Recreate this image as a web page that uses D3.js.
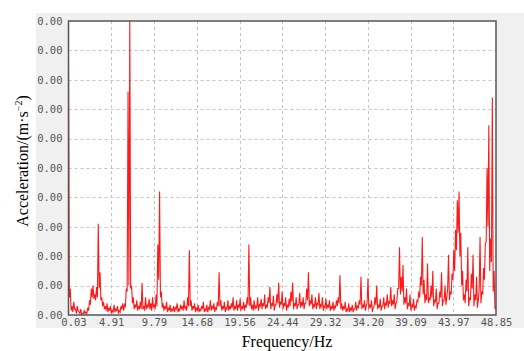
<!DOCTYPE html>
<html><head><meta charset="utf-8">
<script src="https://cdn.jsdelivr.net/npm/d3@7"></script>
<style>html,body{margin:0;padding:0;background:#fff;overflow:hidden}</style>
</head><body>
<svg id="chart" width="524" height="351"></svg>
<script>
// ---- data ----
const freqStart = 0.03, freqStep = 0.2;              // Hz
const xTickLabels = ["0.03","4.91","9.79","14.68","19.56","24.44","29.32","34.20","39.09","43.97","48.85"];
const yTickValues = [0,0.0001,0.0002,0.0003,0.0004,0.0005,0.0006,0.0007,0.0008,0.0009,0.0010];
// amplitude spectrum peaks, in 1e-4 m/s^2, sampled every freqStep from freqStart
const amplitudePeaks = [
 8.6,0.9,0.3,0.45,0.2,0.3,0.1,0.2,0.05,0.15,
 0.1,0.25,0.5,0.9,1.0,0.7,0.95,3.1,1.45,0.6,
 0.45,0.3,0.4,0.25,0.3,0.15,0.35,0.2,0.3,0.15,
 0.3,0.4,0.35,0.9,7.6,10.0,1.0,0.6,0.35,0.5,
 0.3,0.45,1.1,0.3,0.6,0.35,0.55,0.4,0.6,0.35,
 0.7,2.4,4.2,0.8,0.4,0.3,0.45,0.25,0.35,0.2,
 0.3,0.25,0.4,0.2,0.35,0.3,0.5,0.3,0.6,2.2,
 0.5,0.3,0.4,0.25,0.35,0.2,0.3,0.45,0.2,0.35,
 0.25,0.5,0.3,0.4,0.25,0.45,1.45,0.5,0.3,0.45,
 0.25,0.5,0.3,0.4,0.6,0.3,0.5,0.35,0.55,0.3,
 0.45,0.35,0.6,2.4,0.6,0.35,0.5,0.3,0.6,0.35,
 0.55,0.4,0.7,0.35,0.6,0.95,0.4,0.65,0.35,0.7,
 1.1,0.45,0.8,0.4,0.6,0.35,0.55,0.8,1.1,0.4,
 0.6,0.35,0.75,0.45,0.6,0.4,0.9,1.45,0.5,0.7,
 0.35,0.6,0.4,0.75,0.35,0.6,0.3,0.55,0.35,0.5,
 0.3,0.45,0.3,0.5,0.6,1.35,0.4,0.3,0.45,0.2,
 0.4,0.25,0.35,0.2,0.45,0.3,0.5,1.3,0.35,0.5,
 0.3,1.25,0.35,0.5,0.25,0.6,1.0,0.35,0.55,0.3,
 0.6,0.4,0.7,0.45,0.95,0.5,0.7,0.4,0.9,2.3,
 1.3,1.7,0.6,0.9,0.4,0.7,0.35,0.55,0.3,0.5,
 0.8,1.3,2.65,1.2,0.7,1.75,0.6,1.0,1.5,0.5,
 0.9,0.4,0.8,1.45,0.5,1.0,0.6,2.05,0.8,1.4,
 2.2,2.9,3.9,4.2,2.8,1.5,0.7,1.2,2.3,0.6,
 1.4,2.05,0.7,1.3,0.5,2.65,0.8,1.6,2.4,5.0,
 6.45,2.6,7.4,1.5,0.3
];
// in-between samples (half a step later), in 1e-4 m/s^2
const amplitudeTroughs = [
 0.6,0.15,0.1,0.2,0.05,0.15,0.05,0.02,0.05,0.05,0.05,0.15,
 0.35,0.6,0.55,0.5,0.6,0.9,0.5,
 0.3,0.2,0.15,0.1,0.15,0.05,0.1,0.1,0.15,0.05,0.1,0.2,0.15,0.3,
 0.8,1.0,0.9,0.4,0.2,0.25,0.15,0.2,0.2,
 0.2,0.15,0.2,0.25,0.2,0.15,0.25,0.2,0.3,
 1.2,0.6,0.25,
 0.15,0.2,0.1,0.15,0.1,0.15,0.1,0.2,0.1,0.15,0.2,0.15,0.2,0.15,0.3,
 0.3,0.15,0.2,0.1,0.15,0.1,0.15,0.2,0.1,0.15,0.1,0.2,0.15,0.2,0.1,0.2,0.3,
 0.3,0.15,0.2,0.1,0.2,0.15,0.2,0.25,0.15,0.2,0.15,0.25,0.15,0.2,0.15,0.25,0.35,
 0.3,0.2,0.15,0.2,0.25,0.15,0.3,0.2,0.3,0.2,0.25,0.4,0.2,0.3,0.15,0.35,0.4,
 0.25,0.35,0.2,0.3,0.15,0.25,0.3,0.45,0.2,0.3,0.2,0.35,0.25,0.3,0.2,0.4,0.5,0.3,0.35,0.2,
 0.3,0.2,0.35,0.2,0.3,0.15,0.25,0.2,0.25,0.15,0.2,0.15,0.25,0.3,0.4,0.2,0.15,0.2,0.1,0.15,
 0.1,0.15,0.1,0.2,0.15,0.25,0.35,0.2,0.25,0.15,0.4,0.2,0.25,0.1,0.3,0.35,0.2,0.25,0.15,0.3,
 0.2,0.35,0.25,0.4,0.3,0.35,0.2,0.45,0.9,0.7,0.8,0.35,0.4,0.2,0.3,0.15,0.25,0.15,0.25,0.45,
 0.6,1.0,0.7,0.4,0.5,0.4,0.5,0.6,0.3,0.45,0.2,0.4,0.6,0.3,0.5,0.35,0.9,0.5,0.7,1.2,
 1.5,2.2,2.8,2.0,1.0,0.5,0.4,0.8,0.3,0.5,0.9,0.3,0.5,0.25,0.9,0.4,0.7,1.2,2.5,3.0,1.5,1.8,0.8,0.2
];
const xTitle = "Frequency/Hz";

// ---- layout ----
const svg = d3.select("#chart");
const m = {left:68.5, right:496, top:21, bottom:315};

svg.append("rect").attr("x",36).attr("y",13).attr("width",488).attr("height",315).attr("fill","#f0f0f0");
svg.append("rect").attr("x",m.left).attr("y",m.top).attr("width",m.right-m.left).attr("height",m.bottom-m.top).attr("fill","#fff");

const x = d3.scaleLinear().domain([0.03,48.85]).range([m.left,m.right]);
const y = d3.scaleLinear().domain([0,0.0010]).range([m.bottom,m.top]);
const xTickVals = xTickLabels.map(Number);

// grid
const grid = svg.append("g").attr("stroke","#c4c4c4").attr("stroke-width",1).attr("stroke-dasharray","3,3");
grid.selectAll("line.v").data(xTickVals.slice(1,-1)).join("line")
  .attr("x1",d=>Math.round(x(d))+0.5).attr("x2",d=>Math.round(x(d))+0.5)
  .attr("y1",m.top).attr("y2",m.bottom);
grid.selectAll("line.h").data(yTickValues.slice(1,-1)).join("line")
  .attr("x1",m.left).attr("x2",m.right)
  .attr("y1",d=>Math.round(y(d))+0.5).attr("y2",d=>Math.round(y(d))+0.5);

// data line: interleave peaks and troughs
const pts = [];
amplitudePeaks.forEach((v,i)=>{
  pts.push([freqStart+i*freqStep, v*1e-4]);
  if (i < amplitudeTroughs.length) pts.push([freqStart+(i+0.5)*freqStep, amplitudeTroughs[i]*1e-4]);
});
svg.append("clipPath").attr("id","clip").append("rect")
  .attr("x",m.left).attr("y",m.top).attr("width",m.right-m.left).attr("height",m.bottom-m.top);
svg.append("path").datum(pts)
  .attr("clip-path","url(#clip)")
  .attr("fill","none").attr("stroke","#ff0000").attr("stroke-width",1.1).attr("stroke-opacity",0.9)
  .attr("d",d3.line().x(d=>x(d[0])).y(d=>y(d[1])));

// frame
svg.append("rect").attr("x",m.left).attr("y",m.top).attr("width",m.right-m.left).attr("height",m.bottom-m.top)
  .attr("fill","none").attr("stroke","#555").attr("stroke-width",1.5);

// axes (tick labels only)
const fmt = d3.format(".2f");
const yAxis = d3.axisLeft(y).tickValues(yTickValues).tickFormat(fmt).tickSize(0).tickPadding(6);
const gy = svg.append("g").attr("transform",`translate(${m.left},0)`).call(yAxis);
gy.select(".domain").remove();
gy.selectAll("text").attr("fill","#555").style("font-family","'DejaVu Sans Mono', monospace").style("font-size","10.5px");

const xAxis = d3.axisBottom(x).tickValues(xTickVals).tickFormat((d,i)=>xTickLabels[i]).tickSize(0).tickPadding(4);
const gx = svg.append("g").attr("transform",`translate(0,${m.bottom})`).call(xAxis);
gx.select(".domain").remove();
gx.selectAll("text").attr("fill","#555").style("font-family","'DejaVu Sans Mono', monospace").style("font-size","10.5px");
gx.selectAll(".tick").filter((d,i)=>i===0).select("text").attr("dx",5);

// titles
svg.append("text").attr("x",287).attr("y",347).attr("text-anchor","middle")
  .style("font-family","'Liberation Serif', serif").style("font-size","16px").attr("fill","#000").text(xTitle);

const yt = svg.append("text").attr("transform","translate(28,161) rotate(-90)").attr("text-anchor","middle")
  .style("font-family","'Liberation Serif', serif").style("font-size","16px").attr("fill","#000");
yt.append("tspan").text("Acceleration/(m·s");
yt.append("tspan").attr("dy",-6).style("font-size","10px").text("−2");
yt.append("tspan").attr("dy",6).text(")");
</script>
</body></html>
